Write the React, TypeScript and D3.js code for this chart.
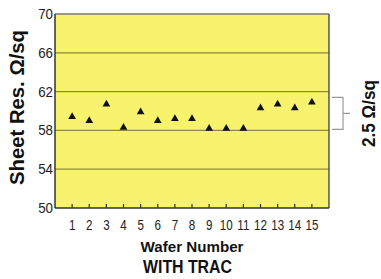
import React from "react";
import * as d3 from "d3";

const wafers = [1, 2, 3, 4, 5, 6, 7, 8, 9, 10, 11, 12, 13, 14, 15];
const sheetRes = [59.4, 59.0, 60.7, 58.3, 59.9, 59.0, 59.2, 59.2, 58.2, 58.2, 58.2, 60.3, 60.7, 60.3, 60.9];
const yTicks = [50, 54, 58, 62, 66, 70];
const bracketRange = [58.1, 61.4];

const W = 381, H = 279;
const left = 55, right = 329, top = 14, bottom = 208;
const FONT = "'Liberation Sans', Arial, sans-serif";

export default function App() {
  const x = d3.scaleLinear().domain([0, 16]).range([left, right]);
  const y = d3.scaleLinear().domain([50, 70]).range([bottom, top]);
  const tri = d3.symbol().type(d3.symbolTriangle).size(26)() as string;
  const by0 = y(bracketRange[1]), by1 = y(bracketRange[0]), bym = (by0 + by1) / 2;
  return (
    <svg width={W} height={H} style={{ position: "absolute", left: 0, top: 0, background: "#fff" }} fontFamily={FONT}>
      <rect x={left} y={top} width={right - left} height={bottom - top} fill="#f8f36c" />
      {yTicks.filter(t => t !== 50 && t !== 70).map(t => (
        <line key={t} x1={left} x2={right} y1={y(t)} y2={y(t)} stroke="#8f8a3a" strokeWidth={1.3} />
      ))}
      {wafers.map(w => (
        <line key={w} x1={x(w)} x2={x(w)} y1={bottom} y2={bottom - 4} stroke="#333" strokeWidth={1.2} />
      ))}
      <line x1={left} x2={right} y1={top} y2={top} stroke="#777" strokeWidth={1.5} />
      <line x1={right} x2={right} y1={top} y2={bottom} stroke="#555" strokeWidth={1.5} />
      <line x1={left} x2={left} y1={top} y2={bottom} stroke="#333" strokeWidth={1.5} />
      <line x1={left} x2={right} y1={bottom} y2={bottom} stroke="#333" strokeWidth={1.5} />
      {yTicks.map(t => (
        <text key={t} transform={`translate(${left - 2},${y(t)}) scale(0.92,1)`} dy="0.35em" textAnchor="end" fontSize={14.5} fill="#222">{t}</text>
      ))}
      {wafers.map(w => (
        <text key={w} transform={`translate(${x(w)},230) scale(0.8,1)`} textAnchor="middle" fontSize={14.5} fill="#222">{w}</text>
      ))}
      {wafers.map((w, i) => (
        <path key={w} d={tri} transform={`translate(${x(w)},${y(sheetRes[i])})`} fill="#111" />
      ))}
      <path d={`M${332},${by0}H${343}V${by1}H${332}M${343},${bym}H${350}`} fill="none" stroke="#999" strokeWidth={1.2} />
      <text transform={`translate(375,113.5) rotate(-90)`} textAnchor="middle" fontSize={18} fontWeight="bold" fill="#111" textLength={67} lengthAdjust="spacingAndGlyphs">2.5 Ω/sq</text>
      <text transform={`translate(24,107.5) rotate(-90)`} textAnchor="middle" fontSize={21} fontWeight="bold" fill="#111" textLength={155} lengthAdjust="spacingAndGlyphs">Sheet Res. Ω/sq</text>
      <text x={192} y={252} textAnchor="middle" fontSize={15} fontWeight="bold" fill="#111" textLength={103} lengthAdjust="spacingAndGlyphs">Wafer Number</text>
      <text x={187.5} y={273} textAnchor="middle" fontSize={17.5} fontWeight="bold" fill="#111" textLength={89} lengthAdjust="spacingAndGlyphs">WITH TRAC</text>
    </svg>
  );
}
